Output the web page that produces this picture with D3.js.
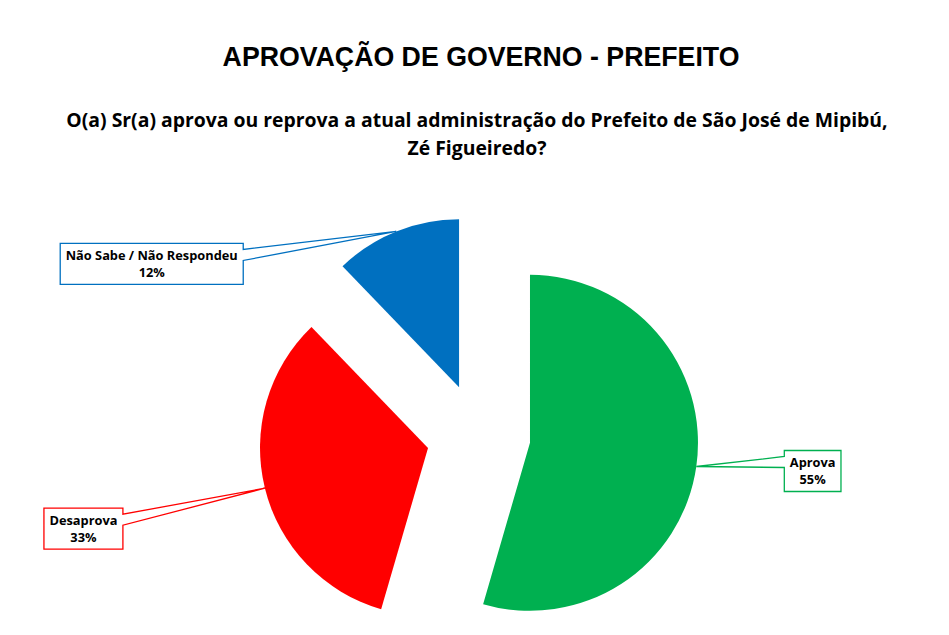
<!DOCTYPE html>
<html>
<head>
<meta charset="utf-8">
<script src="https://cdn.jsdelivr.net/npm/d3@7"></script>
<style>
  body { margin: 0; background: #fff; }
  svg { display: block; }
</style>
</head>
<body>
<svg id="chart" width="949" height="635"></svg>
<script>
// data
const categories = ["Aprova", "Desaprova", "Não Sabe / Não Respondeu"];
const values = [54.5, 33.3, 12.2];
const titleText = "APROVAÇÃO DE GOVERNO - PREFEITO";
const questionLines = [
    "O(a) Sr(a) aprova ou reprova a atual administração do Prefeito de São José de Mipibú,",
    "Zé Figueiredo?"
];

// styles / layout
const colours = ["#00B050", "#FF0000", "#0070C0"];
const width = 949, height = 635;
const centre = { x: 478.5, y: 435.5 };
const radius = 168;
const explode = 52;
// where each callout box sits relative to its leader tip (side = which box edge holds the wedge)
const calloutLayout = [
    { side: "left",  dx: 88,   dy: -16 },
    { side: "right", dx: -142, dy: 20 },
    { side: "right", dx: -153, dy: 12 }
];
const BOX_H = 41, PAD = 5.5, WEDGE_A = 6, WEDGE_B = 17;

const svg = d3.select("#chart");

// shrink font so a text node is no wider than target
function fitFont(sel, target, size) {
    sel.style("font-size", size + "px");
    const w = sel.node().getComputedTextLength();
    if (w > target) sel.style("font-size", (size * target / w).toFixed(2) + "px");
}

// titles
svg.append("text")
    .attr("x", 481).attr("y", 66)
    .attr("text-anchor", "middle")
    .style("font-family", "'Liberation Sans', Arial, sans-serif")
    .style("font-weight", "bold")
    .text(titleText)
    .call(fitFont, 517, 27);

const q = svg.append("g")
    .style("font-family", "'Open Sans', 'Noto Sans', sans-serif")
    .style("font-weight", "bold");

let qSize = 21.5;
q.selectAll("text").data(questionLines).enter()
    .append("text")
        .attr("x", 477)
        .attr("y", (d, i) => 127 + i * 28)
        .attr("text-anchor", "middle")
        .text(d => d)
        .each(function (d, i) {
            if (i === 0) {
                d3.select(this).call(fitFont, 822, 21.5);
                qSize = parseFloat(d3.select(this).style("font-size"));
            } else {
                d3.select(this).style("font-size", qSize + "px");
            }
        });

// pie
const pie = d3.pie().sort(null).value(d => d).startAngle(0).endAngle(2 * Math.PI);
const arcs = pie(values);
const arc = d3.arc().innerRadius(0).outerRadius(radius);

function offset(a, r) { return [Math.sin(a) * r, -Math.cos(a) * r]; }

const slices = svg.append("g")
    .attr("transform", "translate(" + centre.x + "," + centre.y + ")");

slices.selectAll("path.slice").data(arcs).enter()
    .append("path")
        .attr("class", "slice")
        .attr("fill", (d, i) => colours[i])
        .attr("transform", d => {
            const mid = (d.startAngle + d.endAngle) / 2;
            const [ox, oy] = offset(mid, explode);
            return "translate(" + ox + "," + oy + ")";
        })
        .attr("d", arc);

// callouts
const callouts = svg.append("g")
    .style("font-family", "'Open Sans', 'Noto Sans', sans-serif")
    .style("font-weight", "bold")
    .style("font-size", "12.8px");

arcs.forEach(function (d, i) {
    const mid = (d.startAngle + d.endAngle) / 2;
    const [ex, ey] = offset(mid, explode);
    const [tx, ty] = offset(mid, radius);
    const tip = { x: centre.x + ex + tx, y: centre.y + ey + ty };
    const lay = calloutLayout[i];

    const g = callouts.append("g");
    const pct = Math.round(d.data) + "%";
    const t1 = g.append("text").attr("text-anchor", "middle").text(categories[i]);
    const t2 = g.append("text").attr("text-anchor", "middle").text(pct);
    const tw = Math.max(t1.node().getComputedTextLength(), t2.node().getComputedTextLength());
    const bw = tw + 2 * PAD;

    const top = tip.y + lay.dy;
    let left, right;
    if (lay.side === "left") { left = tip.x + lay.dx; right = left + bw; }
    else { right = tip.x + lay.dx; left = right - bw; }
    const bottom = top + BOX_H;

    let p;
    if (lay.side === "right") {
        p = "M" + left + "," + top + "H" + right + "V" + (top + WEDGE_A) +
            "L" + tip.x + "," + tip.y + "L" + right + "," + (top + WEDGE_B) +
            "V" + bottom + "H" + left + "Z";
    } else {
        p = "M" + left + "," + top + "H" + right + "V" + bottom + "H" + left +
            "V" + (top + WEDGE_B) + "L" + tip.x + "," + tip.y +
            "L" + left + "," + (top + WEDGE_A) + "Z";
    }
    g.insert("path", "text")
        .attr("d", p)
        .attr("fill", "#fff")
        .attr("stroke", colours[i])
        .attr("stroke-width", 1.3)
        .attr("stroke-linejoin", "miter");

    const cx = (left + right) / 2;
    t1.attr("x", cx).attr("y", top + 17);
    t2.attr("x", cx).attr("y", top + 34);
});
</script>
</body>
</html>
